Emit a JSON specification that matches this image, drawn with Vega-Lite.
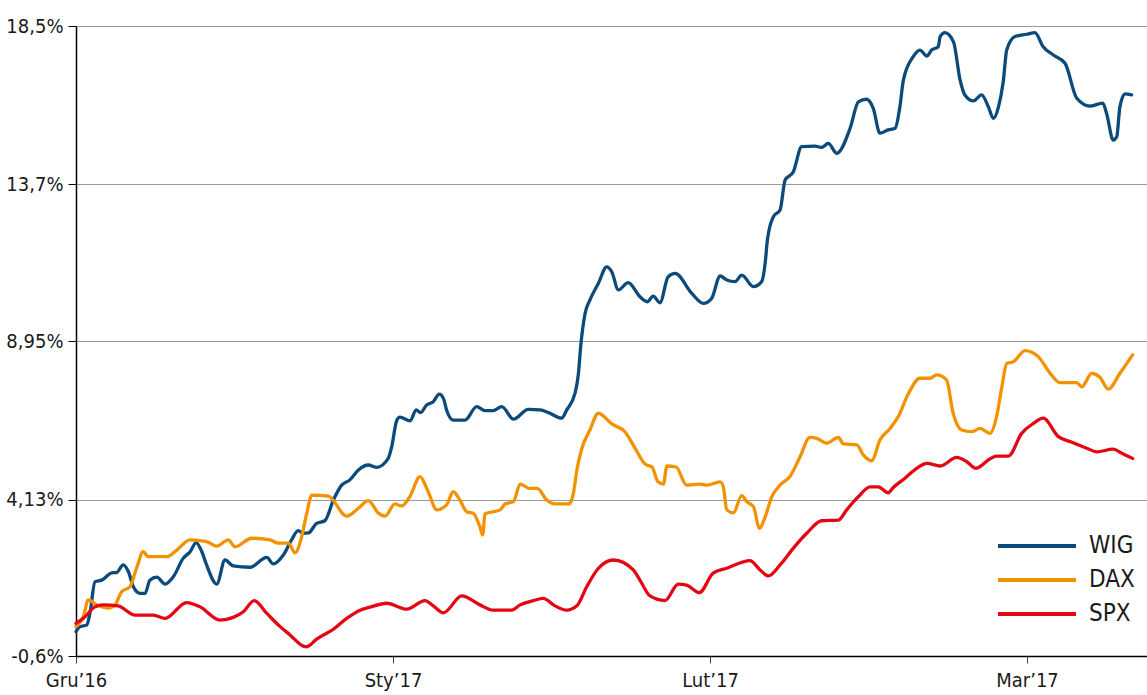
{
  "$schema": "https://vega.github.io/schema/vega-lite/v6.json",
  "width": 1071,
  "height": 630,
  "autosize": {"type": "none"},
  "padding": {"left": 76, "top": 26, "right": 0, "bottom": 39},
  "background": "white",
  "config": {
    "view": {"stroke": null},
    "font": "Liberation Sans Narrow, DejaVu Sans Condensed, sans-serif",
    "axis": {"labelFont": "Liberation Sans Narrow, DejaVu Sans Condensed, sans-serif", "labelColor": "#1a1a1a", "title": null}
  },
  "datasets": {
    "series": [
      {"s":"WIG","t":0,"v":0.14},{"s":"WIG","t":0.013,"v":0.29},{"s":"WIG","t":0.034,"v":0.34},{"s":"WIG","t":0.044,"v":0.70},{"s":"WIG","t":0.060,"v":1.65},{"s":"WIG","t":0.081,"v":1.70},{"s":"WIG","t":0.113,"v":1.92},{"s":"WIG","t":0.128,"v":1.93},{"s":"WIG","t":0.149,"v":2.16},{"s":"WIG","t":0.165,"v":1.96},{"s":"WIG","t":0.181,"v":1.50},{"s":"WIG","t":0.202,"v":1.30},{"s":"WIG","t":0.218,"v":1.30},{"s":"WIG","t":0.233,"v":1.70},{"s":"WIG","t":0.255,"v":1.79},{"s":"WIG","t":0.281,"v":1.58},{"s":"WIG","t":0.307,"v":1.80},{"s":"WIG","t":0.338,"v":2.36},{"s":"WIG","t":0.360,"v":2.56},{"s":"WIG","t":0.379,"v":2.84},{"s":"WIG","t":0.397,"v":2.56},{"s":"WIG","t":0.412,"v":2.16},{"s":"WIG","t":0.444,"v":1.58},{"s":"WIG","t":0.470,"v":2.31},{"s":"WIG","t":0.496,"v":2.13},{"s":"WIG","t":0.549,"v":2.09},{"s":"WIG","t":0.602,"v":2.39},{"s":"WIG","t":0.622,"v":2.19},{"s":"WIG","t":0.654,"v":2.46},{"s":"WIG","t":0.680,"v":2.92},{"s":"WIG","t":0.701,"v":3.20},{"s":"WIG","t":0.717,"v":3.12},{"s":"WIG","t":0.733,"v":3.13},{"s":"WIG","t":0.759,"v":3.42},{"s":"WIG","t":0.785,"v":3.50},{"s":"WIG","t":0.812,"v":4.13},{"s":"WIG","t":0.838,"v":4.58},{"s":"WIG","t":0.864,"v":4.74},{"s":"WIG","t":0.891,"v":5.04},{"s":"WIG","t":0.922,"v":5.19},{"s":"WIG","t":0.949,"v":5.12},{"s":"WIG","t":0.985,"v":5.39},{"s":"WIG","t":0.996,"v":5.75},{"s":"WIG","t":1.012,"v":6.55},{"s":"WIG","t":1.022,"v":6.64},{"s":"WIG","t":1.054,"v":6.53},{"s":"WIG","t":1.073,"v":6.86},{"s":"WIG","t":1.087,"v":6.78},{"s":"WIG","t":1.106,"v":7.01},{"s":"WIG","t":1.127,"v":7.11},{"s":"WIG","t":1.146,"v":7.34},{"s":"WIG","t":1.159,"v":7.21},{"s":"WIG","t":1.169,"v":6.86},{"s":"WIG","t":1.190,"v":6.55},{"s":"WIG","t":1.227,"v":6.55},{"s":"WIG","t":1.264,"v":6.96},{"s":"WIG","t":1.290,"v":6.84},{"s":"WIG","t":1.316,"v":6.84},{"s":"WIG","t":1.343,"v":6.96},{"s":"WIG","t":1.380,"v":6.58},{"s":"WIG","t":1.427,"v":6.88},{"s":"WIG","t":1.464,"v":6.86},{"s":"WIG","t":1.490,"v":6.78},{"s":"WIG","t":1.532,"v":6.61},{"s":"WIG","t":1.548,"v":6.86},{"s":"WIG","t":1.574,"v":7.36},{"s":"WIG","t":1.585,"v":7.97},{"s":"WIG","t":1.592,"v":8.78},{"s":"WIG","t":1.606,"v":9.79},{"s":"WIG","t":1.621,"v":10.19},{"s":"WIG","t":1.648,"v":10.70},{"s":"WIG","t":1.674,"v":11.20},{"s":"WIG","t":1.690,"v":11.05},{"s":"WIG","t":1.711,"v":10.50},{"s":"WIG","t":1.742,"v":10.72},{"s":"WIG","t":1.779,"v":10.29},{"s":"WIG","t":1.802,"v":10.14},{"s":"WIG","t":1.821,"v":10.31},{"s":"WIG","t":1.842,"v":10.11},{"s":"WIG","t":1.868,"v":10.90},{"s":"WIG","t":1.890,"v":11.00},{"s":"WIG","t":1.942,"v":10.40},{"s":"WIG","t":1.979,"v":10.09},{"s":"WIG","t":2.005,"v":10.24},{"s":"WIG","t":2.032,"v":10.92},{"s":"WIG","t":2.053,"v":10.80},{"s":"WIG","t":2.079,"v":10.75},{"s":"WIG","t":2.100,"v":10.95},{"s":"WIG","t":2.137,"v":10.60},{"s":"WIG","t":2.163,"v":10.75},{"s":"WIG","t":2.174,"v":11.31},{"s":"WIG","t":2.181,"v":12.01},{"s":"WIG","t":2.200,"v":12.72},{"s":"WIG","t":2.221,"v":12.92},{"s":"WIG","t":2.237,"v":13.83},{"s":"WIG","t":2.263,"v":14.08},{"s":"WIG","t":2.289,"v":14.84},{"s":"WIG","t":2.331,"v":14.86},{"s":"WIG","t":2.352,"v":14.82},{"s":"WIG","t":2.373,"v":14.94},{"s":"WIG","t":2.400,"v":14.64},{"s":"WIG","t":2.442,"v":15.40},{"s":"WIG","t":2.468,"v":16.20},{"s":"WIG","t":2.494,"v":16.28},{"s":"WIG","t":2.515,"v":16.00},{"s":"WIG","t":2.536,"v":15.25},{"s":"WIG","t":2.562,"v":15.35},{"s":"WIG","t":2.584,"v":15.40},{"s":"WIG","t":2.599,"v":16.05},{"s":"WIG","t":2.610,"v":16.86},{"s":"WIG","t":2.641,"v":17.57},{"s":"WIG","t":2.662,"v":17.77},{"s":"WIG","t":2.684,"v":17.59},{"s":"WIG","t":2.699,"v":17.77},{"s":"WIG","t":2.720,"v":17.87},{"s":"WIG","t":2.726,"v":18.18},{"s":"WIG","t":2.741,"v":18.30},{"s":"WIG","t":2.768,"v":18.02},{"s":"WIG","t":2.789,"v":16.86},{"s":"WIG","t":2.804,"v":16.41},{"s":"WIG","t":2.831,"v":16.23},{"s":"WIG","t":2.857,"v":16.41},{"s":"WIG","t":2.878,"v":16.05},{"s":"WIG","t":2.894,"v":15.70},{"s":"WIG","t":2.910,"v":16.05},{"s":"WIG","t":2.925,"v":16.81},{"s":"WIG","t":2.936,"v":17.77},{"s":"WIG","t":2.962,"v":18.18},{"s":"WIG","t":2.999,"v":18.25},{"s":"WIG","t":3.025,"v":18.30},{"s":"WIG","t":3.051,"v":17.87},{"s":"WIG","t":3.083,"v":17.62},{"s":"WIG","t":3.120,"v":17.37},{"s":"WIG","t":3.157,"v":16.31},{"s":"WIG","t":3.199,"v":16.07},{"s":"WIG","t":3.239,"v":16.16},{"s":"WIG","t":3.251,"v":15.85},{"s":"WIG","t":3.272,"v":15.04},{"s":"WIG","t":3.283,"v":15.14},{"s":"WIG","t":3.293,"v":16.05},{"s":"WIG","t":3.309,"v":16.44},{"s":"WIG","t":3.330,"v":16.41},
      {"s":"DAX","t":0,"v":0.29},{"s":"DAX","t":0.023,"v":0.59},{"s":"DAX","t":0.039,"v":1.10},{"s":"DAX","t":0.065,"v":0.95},{"s":"DAX","t":0.102,"v":0.85},{"s":"DAX","t":0.123,"v":0.95},{"s":"DAX","t":0.144,"v":1.35},{"s":"DAX","t":0.170,"v":1.50},{"s":"DAX","t":0.191,"v":2.06},{"s":"DAX","t":0.212,"v":2.56},{"s":"DAX","t":0.228,"v":2.41},{"s":"DAX","t":0.286,"v":2.41},{"s":"DAX","t":0.318,"v":2.61},{"s":"DAX","t":0.360,"v":2.92},{"s":"DAX","t":0.412,"v":2.87},{"s":"DAX","t":0.444,"v":2.73},{"s":"DAX","t":0.480,"v":2.92},{"s":"DAX","t":0.502,"v":2.71},{"s":"DAX","t":0.554,"v":2.97},{"s":"DAX","t":0.612,"v":2.92},{"s":"DAX","t":0.638,"v":2.82},{"s":"DAX","t":0.670,"v":2.82},{"s":"DAX","t":0.691,"v":2.53},{"s":"DAX","t":0.712,"v":3.02},{"s":"DAX","t":0.728,"v":3.73},{"s":"DAX","t":0.744,"v":4.28},{"s":"DAX","t":0.796,"v":4.25},{"s":"DAX","t":0.854,"v":3.64},{"s":"DAX","t":0.891,"v":3.88},{"s":"DAX","t":0.922,"v":4.11},{"s":"DAX","t":0.954,"v":3.73},{"s":"DAX","t":0.975,"v":3.64},{"s":"DAX","t":1.006,"v":4.01},{"s":"DAX","t":1.027,"v":3.95},{"s":"DAX","t":1.054,"v":4.25},{"s":"DAX","t":1.085,"v":4.84},{"s":"DAX","t":1.111,"v":4.38},{"s":"DAX","t":1.138,"v":3.83},{"s":"DAX","t":1.169,"v":3.98},{"s":"DAX","t":1.190,"v":4.38},{"s":"DAX","t":1.211,"v":4.13},{"s":"DAX","t":1.233,"v":3.77},{"s":"DAX","t":1.253,"v":3.73},{"s":"DAX","t":1.274,"v":3.32},{"s":"DAX","t":1.283,"v":3.07},{"s":"DAX","t":1.290,"v":3.71},{"s":"DAX","t":1.338,"v":3.83},{"s":"DAX","t":1.353,"v":4.01},{"s":"DAX","t":1.380,"v":4.08},{"s":"DAX","t":1.401,"v":4.61},{"s":"DAX","t":1.432,"v":4.48},{"s":"DAX","t":1.455,"v":4.48},{"s":"DAX","t":1.485,"v":4.13},{"s":"DAX","t":1.511,"v":4.01},{"s":"DAX","t":1.556,"v":4.01},{"s":"DAX","t":1.569,"v":4.33},{"s":"DAX","t":1.580,"v":5.04},{"s":"DAX","t":1.595,"v":5.67},{"s":"DAX","t":1.621,"v":6.25},{"s":"DAX","t":1.648,"v":6.76},{"s":"DAX","t":1.691,"v":6.43},{"s":"DAX","t":1.732,"v":6.19},{"s":"DAX","t":1.763,"v":5.71},{"s":"DAX","t":1.795,"v":5.22},{"s":"DAX","t":1.817,"v":5.13},{"s":"DAX","t":1.836,"v":4.68},{"s":"DAX","t":1.853,"v":4.61},{"s":"DAX","t":1.864,"v":5.16},{"s":"DAX","t":1.893,"v":5.13},{"s":"DAX","t":1.926,"v":4.58},{"s":"DAX","t":1.968,"v":4.61},{"s":"DAX","t":1.990,"v":4.58},{"s":"DAX","t":2.032,"v":4.68},{"s":"DAX","t":2.042,"v":4.53},{"s":"DAX","t":2.053,"v":3.83},{"s":"DAX","t":2.074,"v":3.74},{"s":"DAX","t":2.100,"v":4.26},{"s":"DAX","t":2.116,"v":4.08},{"s":"DAX","t":2.137,"v":3.93},{"s":"DAX","t":2.156,"v":3.27},{"s":"DAX","t":2.174,"v":3.62},{"s":"DAX","t":2.195,"v":4.23},{"s":"DAX","t":2.221,"v":4.58},{"s":"DAX","t":2.252,"v":4.84},{"s":"DAX","t":2.284,"v":5.44},{"s":"DAX","t":2.315,"v":6.03},{"s":"DAX","t":2.337,"v":6.00},{"s":"DAX","t":2.368,"v":5.85},{"s":"DAX","t":2.405,"v":6.03},{"s":"DAX","t":2.421,"v":5.83},{"s":"DAX","t":2.463,"v":5.80},{"s":"DAX","t":2.484,"v":5.49},{"s":"DAX","t":2.510,"v":5.32},{"s":"DAX","t":2.536,"v":5.95},{"s":"DAX","t":2.568,"v":6.30},{"s":"DAX","t":2.594,"v":6.66},{"s":"DAX","t":2.626,"v":7.36},{"s":"DAX","t":2.662,"v":7.82},{"s":"DAX","t":2.694,"v":7.82},{"s":"DAX","t":2.715,"v":7.92},{"s":"DAX","t":2.746,"v":7.77},{"s":"DAX","t":2.767,"v":6.76},{"s":"DAX","t":2.794,"v":6.25},{"s":"DAX","t":2.825,"v":6.20},{"s":"DAX","t":2.852,"v":6.30},{"s":"DAX","t":2.883,"v":6.15},{"s":"DAX","t":2.904,"v":6.66},{"s":"DAX","t":2.920,"v":7.52},{"s":"DAX","t":2.936,"v":8.27},{"s":"DAX","t":2.957,"v":8.32},{"s":"DAX","t":2.994,"v":8.66},{"s":"DAX","t":3.036,"v":8.47},{"s":"DAX","t":3.073,"v":7.97},{"s":"DAX","t":3.104,"v":7.69},{"s":"DAX","t":3.157,"v":7.69},{"s":"DAX","t":3.173,"v":7.56},{"s":"DAX","t":3.204,"v":7.97},{"s":"DAX","t":3.230,"v":7.85},{"s":"DAX","t":3.256,"v":7.49},{"s":"DAX","t":3.293,"v":7.97},{"s":"DAX","t":3.333,"v":8.53},
      {"s":"SPX","t":0,"v":0.39},{"s":"SPX","t":0.023,"v":0.54},{"s":"SPX","t":0.060,"v":0.89},{"s":"SPX","t":0.086,"v":0.95},{"s":"SPX","t":0.133,"v":0.92},{"s":"SPX","t":0.186,"v":0.64},{"s":"SPX","t":0.244,"v":0.64},{"s":"SPX","t":0.281,"v":0.54},{"s":"SPX","t":0.349,"v":1.02},{"s":"SPX","t":0.391,"v":0.89},{"s":"SPX","t":0.454,"v":0.49},{"s":"SPX","t":0.496,"v":0.57},{"s":"SPX","t":0.528,"v":0.74},{"s":"SPX","t":0.562,"v":1.08},{"s":"SPX","t":0.602,"v":0.69},{"s":"SPX","t":0.644,"v":0.29},{"s":"SPX","t":0.675,"v":0.04},{"s":"SPX","t":0.717,"v":-0.30},{"s":"SPX","t":0.728,"v":-0.32},{"s":"SPX","t":0.759,"v":-0.09},{"s":"SPX","t":0.812,"v":0.21},{"s":"SPX","t":0.854,"v":0.54},{"s":"SPX","t":0.896,"v":0.79},{"s":"SPX","t":0.927,"v":0.88},{"s":"SPX","t":0.980,"v":1.00},{"s":"SPX","t":1.043,"v":0.82},{"s":"SPX","t":1.101,"v":1.08},{"s":"SPX","t":1.127,"v":0.92},{"s":"SPX","t":1.159,"v":0.71},{"s":"SPX","t":1.217,"v":1.22},{"s":"SPX","t":1.274,"v":0.95},{"s":"SPX","t":1.316,"v":0.79},{"s":"SPX","t":1.374,"v":0.79},{"s":"SPX","t":1.401,"v":0.95},{"s":"SPX","t":1.443,"v":1.08},{"s":"SPX","t":1.474,"v":1.15},{"s":"SPX","t":1.511,"v":0.92},{"s":"SPX","t":1.548,"v":0.79},{"s":"SPX","t":1.580,"v":0.92},{"s":"SPX","t":1.611,"v":1.50},{"s":"SPX","t":1.648,"v":2.06},{"s":"SPX","t":1.695,"v":2.31},{"s":"SPX","t":1.758,"v":2.01},{"s":"SPX","t":1.779,"v":1.70},{"s":"SPX","t":1.811,"v":1.22},{"s":"SPX","t":1.858,"v":1.08},{"s":"SPX","t":1.900,"v":1.58},{"s":"SPX","t":1.926,"v":1.55},{"s":"SPX","t":1.966,"v":1.32},{"s":"SPX","t":2.010,"v":1.91},{"s":"SPX","t":2.053,"v":2.06},{"s":"SPX","t":2.126,"v":2.29},{"s":"SPX","t":2.158,"v":2.01},{"s":"SPX","t":2.184,"v":1.83},{"s":"SPX","t":2.221,"v":2.16},{"s":"SPX","t":2.263,"v":2.67},{"s":"SPX","t":2.305,"v":3.12},{"s":"SPX","t":2.352,"v":3.50},{"s":"SPX","t":2.405,"v":3.52},{"s":"SPX","t":2.431,"v":3.83},{"s":"SPX","t":2.468,"v":4.23},{"s":"SPX","t":2.505,"v":4.53},{"s":"SPX","t":2.531,"v":4.53},{"s":"SPX","t":2.562,"v":4.35},{"s":"SPX","t":2.578,"v":4.51},{"s":"SPX","t":2.615,"v":4.79},{"s":"SPX","t":2.652,"v":5.09},{"s":"SPX","t":2.684,"v":5.24},{"s":"SPX","t":2.726,"v":5.16},{"s":"SPX","t":2.778,"v":5.42},{"s":"SPX","t":2.810,"v":5.29},{"s":"SPX","t":2.839,"v":5.09},{"s":"SPX","t":2.885,"v":5.39},{"s":"SPX","t":2.904,"v":5.46},{"s":"SPX","t":2.941,"v":5.46},{"s":"SPX","t":2.983,"v":6.15},{"s":"SPX","t":3.020,"v":6.45},{"s":"SPX","t":3.051,"v":6.61},{"s":"SPX","t":3.099,"v":6.05},{"s":"SPX","t":3.136,"v":5.90},{"s":"SPX","t":3.188,"v":5.70},{"s":"SPX","t":3.220,"v":5.59},{"s":"SPX","t":3.272,"v":5.67},{"s":"SPX","t":3.299,"v":5.55},{"s":"SPX","t":3.333,"v":5.39}
    ]
  },
  "data": {"name": "series"},
  "mark": {"type": "line", "strokeWidth": 3.3, "interpolate": "monotone", "strokeCap": "round", "strokeJoin": "round"},
  "encoding": {
    "x": {
      "field": "t", "type": "quantitative",
      "scale": {"domain": [0, 3.3785], "nice": false, "zero": false},
      "axis": {
        "values": [0, 1, 2, 3],
        "labelExpr": "['Gru’16','Sty’17','Lut’17','Mar’17'][datum.value]",
        "grid": false,
        "domainColor": "#000000", "domainWidth": 1.5,
        "tickColor": "#444444", "tickSize": 7, "tickWidth": 1,
        "labelFontSize": 20, "labelPadding": 7, "labelFlush": false
      }
    },
    "y": {
      "field": "v", "type": "quantitative",
      "scale": {"domain": [-0.6, 18.5], "nice": false, "zero": false},
      "axis": {
        "values": [-0.6, 4.13, 8.95, 13.7, 18.5],
        "labelExpr": "replace(toString(datum.value), '.', ',') + '%'",
        "grid": true, "gridColor": "#9a9a9a", "gridWidth": 1,
        "domainColor": "#000000", "domainWidth": 1.5,
        "tickColor": "#000000", "tickSize": 8, "tickWidth": 1,
        "labelFontSize": 20, "labelPadding": 5
      }
    },
    "color": {
      "field": "s", "type": "nominal",
      "scale": {"domain": ["WIG", "DAX", "SPX"], "range": ["#0b4a7a", "#f39200", "#e30613"]},
      "legend": {
        "title": null,
        "orient": "none",
        "legendX": 949,
        "legendY": 508,
        "symbolType": "M-4,0H4",
        "symbolSize": 380,
        "symbolStrokeWidth": 4,
        "symbolFillColor": "transparent",
        "rowPadding": 10,
        "labelOffset": 40,
        "labelFontSize": 24,
        "labelColor": "#1a1a1a",
        "labelFont": "Liberation Sans Narrow, DejaVu Sans Condensed, sans-serif",
        "padding": 0
      }
    }
  }
}
